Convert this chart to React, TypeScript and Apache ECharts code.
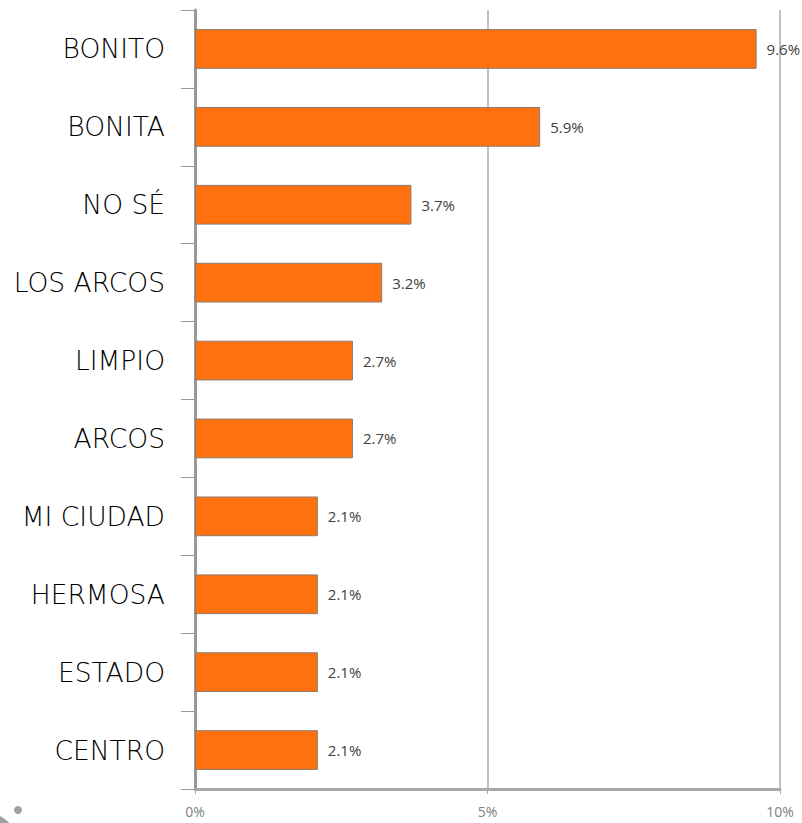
import React, { useEffect, useRef } from "react";
import * as echarts from "echarts";

const categories = ["BONITO", "BONITA", "NO SÉ", "LOS ARCOS", "LIMPIO", "ARCOS", "MI CIUDAD", "HERMOSA", "ESTADO", "CENTRO"];
const values = [9.6, 5.9, 3.7, 3.2, 2.7, 2.7, 2.1, 2.1, 2.1, 2.1];
const axisMin = 0;
const axisMax = 10;
const axisStep = 5;

export default function App() {
  const ref = useRef<HTMLDivElement>(null);
  useEffect(() => {
    document.body.style.margin = "0";
    const chart = echarts.init(ref.current!, null, { renderer: "svg" });
    chart.setOption({
      animation: false,
      backgroundColor: "#ffffff",
      grid: { left: 195, right: 22, top: 10, bottom: 34, containLabel: false },
      xAxis: {
        type: "value",
        min: axisMin,
        max: axisMax,
        interval: axisStep,
        axisLine: { show: true, lineStyle: { color: "#a8a8a8", width: 3 } },
        axisTick: { show: true, length: 5, lineStyle: { color: "#a8a8a8", width: 1 } },
        splitLine: { show: true, lineStyle: { color: "#ababab", width: 1.5 } },
        axisLabel: {
          formatter: "{value}%",
          color: "#808080",
          fontSize: 14,
          fontFamily: "Open Sans",
          margin: 15,
        },
      },
      yAxis: {
        type: "category",
        inverse: true,
        data: categories,
        axisLine: { show: true, lineStyle: { color: "#999999", width: 3 } },
        axisTick: { show: true, length: 14, lineStyle: { color: "#999999", width: 1 } },
        axisLabel: {
          color: "#000000",
          fontSize: 26.5,
          fontWeight: 200,
          fontFamily: "DejaVu Sans",
          margin: 30,
        },
        splitLine: { show: false },
      },
      series: [
        {
          type: "bar",
          data: values,
          barCategoryGap: "49%",
          itemStyle: { color: "#ff710f", borderColor: "#8c7b70", borderWidth: 1 },
          label: {
            show: true,
            position: "right",
            distance: 10,
            formatter: "{c}%",
            color: "#404040",
            fontSize: 15,
            fontFamily: "Open Sans",
          },
        },
      ],
      graphic: [
        { type: "circle", shape: { cx: 18, cy: 810, r: 4 }, style: { fill: "#a0a0a0" } },
        {
          type: "arc",
          shape: { cx: -12, cy: 842, r: 24, startAngle: -Math.PI / 2, endAngle: -0.05 },
          style: { stroke: "#a0a0a0", lineWidth: 9, fill: "none" },
        },
      ],
    });
    return () => chart.dispose();
  }, []);
  return <div ref={ref} style={{ width: 802, height: 823 }} />;
}
